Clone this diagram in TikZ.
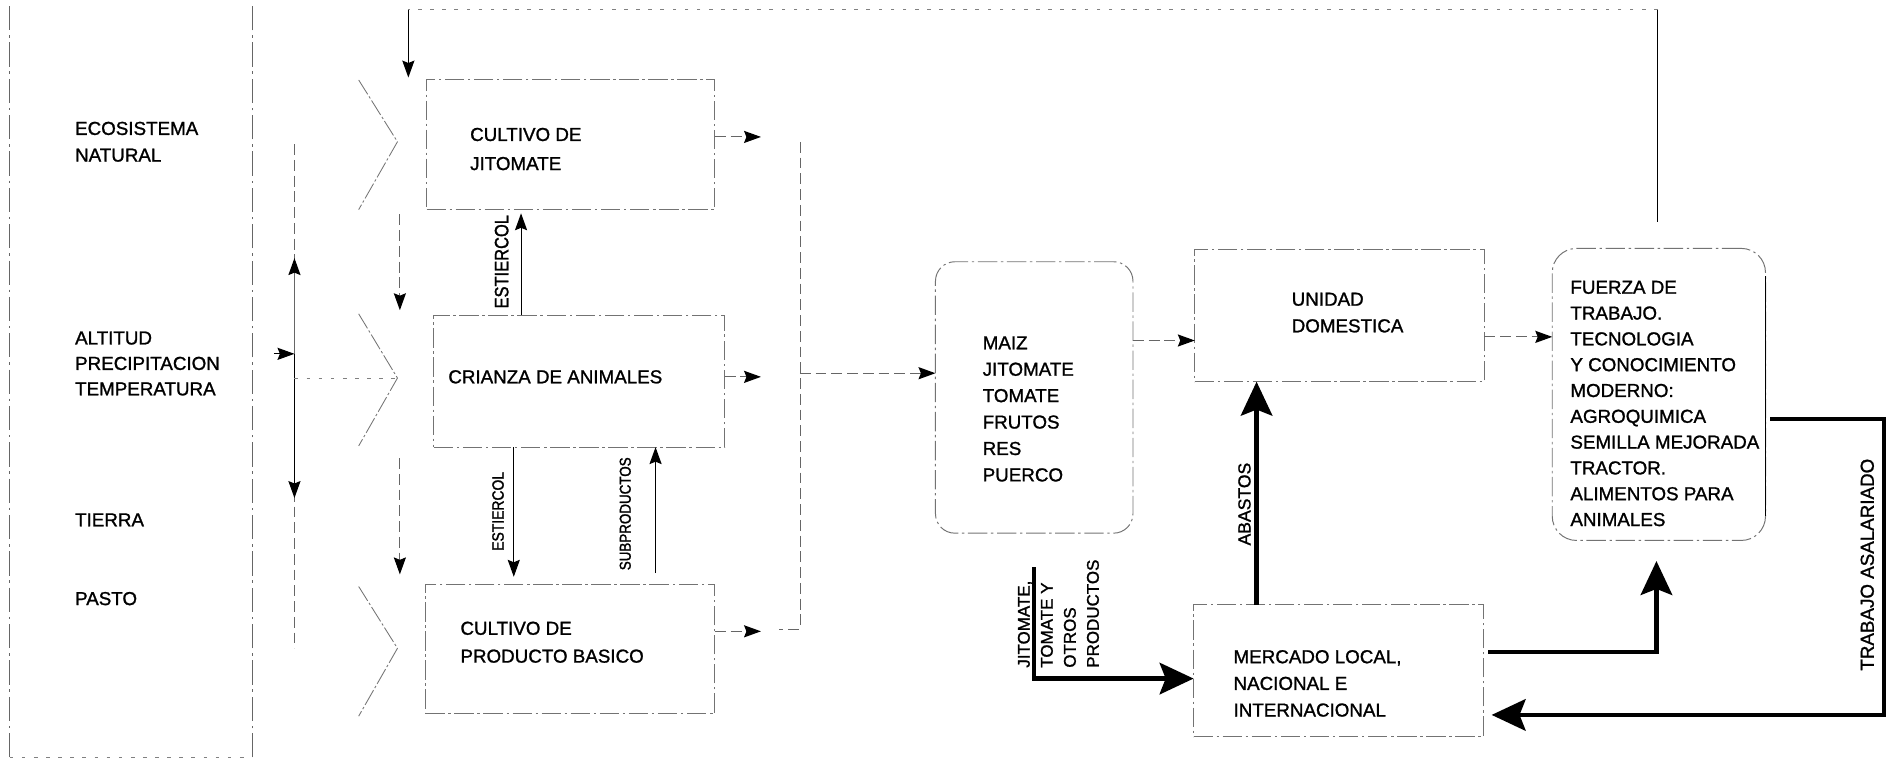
\documentclass[tikz,border=0pt]{standalone}
\usepackage{fontspec}
\setmainfont{Liberation Sans}[FakeBold=1.2]
\newfontfamily\condfont{Liberation Sans}[FakeStretch=0.85,FakeBold=1.5]
\usetikzlibrary{arrows.meta,calc}
\begin{document}
\begin{tikzpicture}[x=1pt,y=-1pt,
  every node/.style={inner sep=0pt,outer sep=0pt},
  txt/.style={font=\fontsize{15.5}{22}\selectfont, align=left, anchor=west},
  boxst/.style={draw=black!55, line width=0.8pt, dash pattern=on 16pt off 3pt on 2pt off 3pt},
  panel/.style={draw=black!60, line width=0.8pt, dash pattern=on 20pt off 4pt on 2pt off 4pt},
  dotl/.style={draw=black!50, line width=0.8pt, dash pattern=on 3pt off 7pt},
  dsh/.style={draw=black!60, dash pattern=on 9pt off 4pt},
  chev/.style={draw=black!55, line width=0.7pt, dash pattern=on 14pt off 2pt on 2pt off 2pt},
  tarr/.style={line width=0.9pt, -{Stealth[length=14pt,width=10pt,inset=2pt,color=black]}},
  barr/.style={line width=3.5pt, -{Stealth[length=28pt,width=26pt,inset=5pt]}},
  rlab/.style={rotate=90}
]
\path[use as bounding box] (0,0) rectangle (1568,635);

% left panel
\coordinate (p1) at (8,5); \coordinate (p2) at (8,625);
\coordinate (p3) at (208,625); \coordinate (p4) at (208,5);
\draw[panel] (p1) -- (p2);
\draw[dotl] (p2) -- (p3);
\draw[panel] (p3) -- (p4);

\node[txt] (eco) at (62,117) {ECOSISTEMA\\NATURAL};
\node[txt, font=\fontsize{15.5}{21}\selectfont] (alt) at (62,300) {ALTITUD\\PRECIPITACION\\TEMPERATURA};
\node[txt] (tie) at (62,429) {TIERRA};
\node[txt] (pas) at (62,494) {PASTO};

% vertical line with arrows
\coordinate (vt) at (243,119); \coordinate (vb) at (243,535);
\coordinate (vm) at (243,292); \coordinate (vu) at (243,213); \coordinate (vd) at (243,411);
\coordinate (vl) at (226,292); \coordinate (vh) at (243,312);
\draw[dsh] (vt) -- (vb);
\draw[tarr, dsh] (vm) -- (vu);
\draw[tarr] (vm) -- (vd);
\draw[tarr] (vl) -- (vm);

% chevrons
\coordinate (c1) at (328,117); \coordinate (c2) at (328,312); \coordinate (c3) at (328,535);
\draw[chev] (296,66) -- (c1) -- (296,173);
\draw[chev] (296,259) -- (c2) -- (296,368);
\draw[chev] (296,484) -- (c3) -- (296,591);
\draw[dotl] (vh) -- (c2);

% left boxes
\node[boxst, minimum width=238pt, minimum height=107pt] (b1) at (471,119.5) {};
\node[boxst, minimum width=240pt, minimum height=109pt] (b2) at (478,314.5) {};
\node[boxst, minimum width=239pt, minimum height=107pt] (b3) at (470.5,535.5) {};
\node[txt, font=\fontsize{15.5}{24}\selectfont] (t1) at (388,123) {CULTIVO DE\\JITOMATE};
\node[txt] (t2) at (370,311) {CRIANZA DE ANIMALES};
\node[txt, font=\fontsize{15.5}{23}\selectfont] (t3) at (380,530) {CULTIVO DE\\PRODUCTO BASICO};

% arrows between chevrons
\coordinate (d1a) at (330,177); \coordinate (d1b) at (330,256);
\coordinate (d2a) at (330,378); \coordinate (d2b) at (330,474);
\draw[tarr, dsh] (d1a) -- (d1b);
\draw[tarr, dsh] (d2a) -- (d2b);

% estiercol / subproductos
\coordinate (e1) at (430,0); \coordinate (e2) at (424,0); \coordinate (e3) at (541,0);
\draw[tarr] (b2.north -| e1) -- ($(b1.south -| e1)+(0,3)$);
\draw[tarr] (b2.south -| e2) -- ($(b3.north -| e2)+(0,-6)$);
\draw[tarr] ($(b3.north -| e3)+(0,-9)$) -- (b2.south -| e3);
\node[rlab, font=\condfont\fontsize{16}{18}\selectfont] (le1) at (414,216) {ESTIERCOL};
\node[rlab, font=\condfont\fontsize{13.5}{16}\selectfont] (le2) at (411,422) {ESTIERCOL};
\node[rlab, font=\condfont\fontsize{13}{16}\selectfont] (ls) at (516,424) {SUBPRODUCTOS};

% top connector
\coordinate (u1) at (1368,183); \coordinate (u2) at (1368,8); \coordinate (u3) at (337,8);
\draw[line width=0.9pt] (u1) -- (u2);
\draw[dotl] (u2) -- (u3);
\draw[tarr] (u3) -- ($(b1.north -| u3)+(0,-2)$);

% right arrows to collector
\coordinate (y113) at (628,113); \coordinate (y311) at (628,311); \coordinate (y521) at (628,521);
\draw[tarr, dsh] (b1.east |- y113) -- (y113);
\draw[tarr, dsh] (b2.east |- y311) -- (y311);
\draw[tarr, dsh] (b3.east |- y521) -- (y521);
\coordinate (k1) at (660,117); \coordinate (k2) at (660,519); \coordinate (k3) at (643,519);
\coordinate (k4) at (660,308);
\draw[dsh] (k1) -- (k2) -- (k3);

% middle box
\node[boxst, rounded corners=16pt, minimum width=163pt, minimum height=224pt] (mz) at (853.5,328) {};
\node[txt, font=\fontsize{15.5}{21.8}\selectfont] (mzt) at (811,337.5) {MAIZ\\JITOMATE\\TOMATE\\FRUTOS\\RES\\PUERCO};
\draw[tarr, dsh] (k4) -- (mz.west |- k4);

% unidad domestica
\node[boxst, minimum width=239pt, minimum height=109pt] (ud) at (1105.5,260.5) {};
\node[txt, font=\fontsize{15.5}{22}\selectfont] (udt) at (1066,258) {UNIDAD\\DOMESTICA};
\coordinate (y281) at (0,281);
\draw[tarr, dsh] (mz.east |- y281) -- (ud.west |- y281);

% fuerza de trabajo
\node[boxst, rounded corners=20pt, minimum width=176pt, minimum height=241pt] (fz) at (1369,325.5) {};
\draw[line width=0.9pt] (1457,228) -- (1457,426);
\node[txt, font=\fontsize{15.5}{21.3}\selectfont] (fzt) at (1296,333) {FUERZA DE\\TRABAJO.\\TECNOLOGIA\\Y CONOCIMIENTO\\MODERNO:\\AGROQUIMICA\\SEMILLA MEJORADA\\TRACTOR.\\ALIMENTOS PARA\\ANIMALES};
\coordinate (y278) at (0,278);
\draw[tarr, dsh] (ud.east |- y278) -- (fz.west |- y278);

% mercado
\node[boxst, minimum width=239pt, minimum height=109pt] (mk) at (1104.5,553.5) {};
\node[txt, font=\fontsize{15.5}{22}\selectfont] (mkt) at (1018,564) {MERCADO LOCAL,\\NACIONAL E\\INTERNACIONAL};

% thick arrows
\coordinate (ab) at (1037,0);
\draw[barr] (mk.north -| ab) -- (ud.south -| ab);
\node[rlab, font=\fontsize{14.5}{18}\selectfont] (lab) at (1027,416) {ABASTOS};

\coordinate (j1) at (853,468); \coordinate (j2) at (853,560);
\draw[barr] (j1) -- (j2) -- (mk.west |- j2);
\node[rlab, font=\fontsize{14}{19}\selectfont, align=left, anchor=north west] (ljt) at (840,551) {JITOMATE,\\TOMATE Y\\OTROS\\PRODUCTOS};

\coordinate (m1) at (1228,538); \coordinate (m2) at (1367,538); \coordinate (m3) at (1367,463);
\draw[barr] (m1) -- (m2) -- (m3);

\coordinate (w1) at (1461,346); \coordinate (w2) at (1555,346); \coordinate (w3) at (1555,590);
\coordinate (w4) at (1231,590);
\draw[barr] (w1) -- (w2) -- (w3) -- (w4);
\node[rlab, font=\fontsize{15.5}{18}\selectfont] (ltr) at (1541,466) {TRABAJO ASALARIADO};
\end{tikzpicture}
\end{document}
